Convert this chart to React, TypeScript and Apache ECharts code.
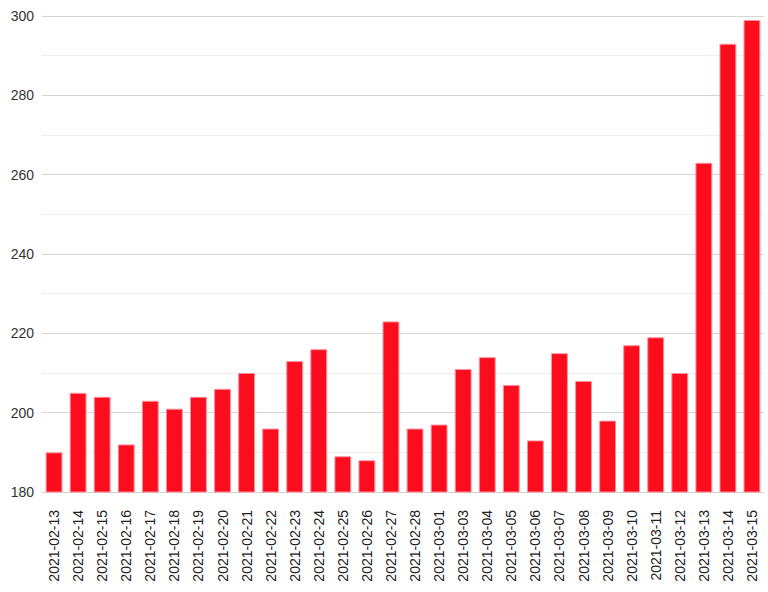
import React, { useEffect, useRef } from "react";
import * as echarts from "echarts";

const categories = [
  "2021-02-13", "2021-02-14", "2021-02-15", "2021-02-16", "2021-02-17", "2021-02-18",
  "2021-02-19", "2021-02-20", "2021-02-21", "2021-02-22", "2021-02-23", "2021-02-24",
  "2021-02-25", "2021-02-26", "2021-02-27", "2021-02-28", "2021-03-01", "2021-03-03",
  "2021-03-04", "2021-03-05", "2021-03-06", "2021-03-07", "2021-03-08", "2021-03-09",
  "2021-03-10", "2021-03-11", "2021-03-12", "2021-03-13", "2021-03-14", "2021-03-15",
];
const values = [
  190, 205, 204, 192, 203, 201, 204, 206, 210, 196, 213, 216, 189, 188, 223,
  196, 197, 211, 214, 207, 193, 215, 208, 198, 217, 219, 210, 263, 293, 299,
];
const yMin = 180;
const yMax = 300;
const yStep = 20;

export default function App() {
  const ref = useRef<HTMLDivElement>(null);
  useEffect(() => {
    if (!ref.current) return;
    const chart = echarts.init(ref.current, undefined, { renderer: "svg" });
    chart.setOption({
      animation: false,
      textStyle: { fontFamily: "Arial, Liberation Sans, sans-serif" },
      grid: { left: 42, right: 4, top: 16, bottom: 100, containLabel: false },
      xAxis: {
        type: "category",
        data: categories,
        axisLine: { show: true, lineStyle: { color: "#d0d0d0" } },
        axisTick: { show: false },
        axisLabel: {
          rotate: 90,
          interval: 0,
          margin: 18,
          fontSize: 14,
          color: "#222",
        },
      },
      yAxis: {
        type: "value",
        min: yMin,
        max: yMax,
        interval: yStep,
        axisLine: { show: false },
        axisTick: { show: false },
        axisLabel: { fontSize: 14, color: "#333", margin: 8 },
        splitLine: { show: true, lineStyle: { color: "#d4d4d4", width: 1 } },
        minorTick: { show: false, splitNumber: 2 },
        minorSplitLine: { show: true, lineStyle: { color: "#eeeeee", width: 1 } },
      },
      series: [
        {
          type: "bar",
          data: values,
          barCategoryGap: "30%",
          itemStyle: {
            color: "#fc0d1e",
            borderColor: "#ff8f99",
            borderWidth: 1,
          },
        },
      ],
    });
    return () => chart.dispose();
  }, []);
  return <div ref={ref} style={{ width: 768, height: 592, position: "absolute", left: 0, top: 0 }} />;
}
